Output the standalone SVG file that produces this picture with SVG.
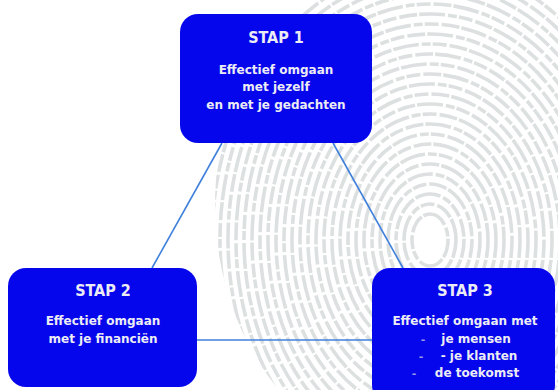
<svg xmlns="http://www.w3.org/2000/svg" width="558" height="390" viewBox="0 0 558 390">
<defs>
<style>
.box{fill:#0606ec;}
.t{font-family:"DejaVu Sans",sans-serif;font-weight:bold;fill:#ececf4;text-anchor:middle;}
.h{font-family:"DejaVu Sans Condensed","DejaVu Sans",sans-serif;font-size:16px;}
.b{font-size:12px;}
.d{fill:#9a9ae6;font-size:11px;}
.conn{stroke:#3f80dc;stroke-width:1.6;fill:none;}
.fp{fill:none;stroke:#dde0e0;stroke-width:3.6;stroke-dasharray:18 2 26 3 9 2 14 3;}
</style>
<clipPath id="fpclip"><ellipse cx="440" cy="205" rx="225" ry="265"/></clipPath>
</defs>
<rect width="558" height="390" fill="#ffffff"/>
<g id="background" clip-path="url(#fpclip)">
<ellipse class="fp" cx="430" cy="240" rx="18" ry="26"/>
<ellipse class="fp" cx="430" cy="240" rx="26" ry="36"/>
<ellipse class="fp" cx="430" cy="240" rx="34" ry="46"/>
<ellipse class="fp" cx="430" cy="240" rx="42" ry="56"/>
<ellipse class="fp" cx="430" cy="240" rx="50" ry="66"/>
<ellipse class="fp" cx="430" cy="240" rx="58" ry="76"/>
<ellipse class="fp" cx="430" cy="240" rx="66" ry="86"/>
<ellipse class="fp" cx="430" cy="240" rx="74" ry="96"/>
<ellipse class="fp" cx="430" cy="240" rx="82" ry="106"/>
<ellipse class="fp" cx="430" cy="240" rx="90" ry="116"/>
<ellipse class="fp" cx="430" cy="240" rx="98" ry="126"/>
<ellipse class="fp" cx="430" cy="240" rx="106" ry="136"/>
<ellipse class="fp" cx="430" cy="240" rx="114" ry="146"/>
<ellipse class="fp" cx="430" cy="240" rx="122" ry="156"/>
<ellipse class="fp" cx="430" cy="240" rx="130" ry="166"/>
<ellipse class="fp" cx="430" cy="240" rx="138" ry="176"/>
<ellipse class="fp" cx="430" cy="240" rx="146" ry="186"/>
<ellipse class="fp" cx="430" cy="240" rx="154" ry="196"/>
<ellipse class="fp" cx="430" cy="240" rx="162" ry="206"/>
<ellipse class="fp" cx="430" cy="240" rx="170" ry="216"/>
<ellipse class="fp" cx="430" cy="240" rx="178" ry="226"/>
<ellipse class="fp" cx="430" cy="240" rx="186" ry="236"/>
<ellipse class="fp" cx="430" cy="240" rx="194" ry="246"/>
<ellipse class="fp" cx="430" cy="240" rx="202" ry="256"/>
<ellipse class="fp" cx="430" cy="240" rx="210" ry="266"/>
<ellipse class="fp" cx="430" cy="240" rx="218" ry="276"/>
</g>
<g id="connectors">
<line class="conn" x1="222" y1="143" x2="152" y2="268"/>
<line class="conn" x1="333" y1="143" x2="403" y2="268"/>
<line class="conn" x1="196" y1="340" x2="372" y2="340"/>
</g>
<g id="stap1">
<rect class="box" x="180" y="14" width="192" height="129" rx="18"/>
<text class="t h" x="276" y="43">STAP 1</text>
<text class="t b" x="276" y="74">Effectief omgaan</text>
<text class="t b" x="276" y="91">met jezelf</text>
<text class="t b" x="276" y="109">en met je gedachten</text>
</g>
<g id="stap2">
<rect class="box" x="8" y="268" width="189" height="119" rx="18"/>
<text class="t h" x="103" y="296">STAP 2</text>
<text class="t b" x="103" y="325">Effectief omgaan</text>
<text class="t b" x="103" y="343">met je financiën</text>
</g>
<g id="stap3">
<rect class="box" x="372" y="268" width="183" height="135" rx="18"/>
<text class="t h" x="465" y="296">STAP 3</text>
<text class="t b" x="465" y="325">Effectief omgaan met</text>
<text class="t d" x="423" y="343">-</text>
<text class="t b" x="476" y="343">je mensen</text>
<text class="t d" x="421" y="360">-</text>
<text class="t b" x="479" y="360">- je klanten</text>
<text class="t d" x="414" y="377">-</text>
<text class="t b" x="477" y="377">de toekomst</text>
</g>
</svg>
